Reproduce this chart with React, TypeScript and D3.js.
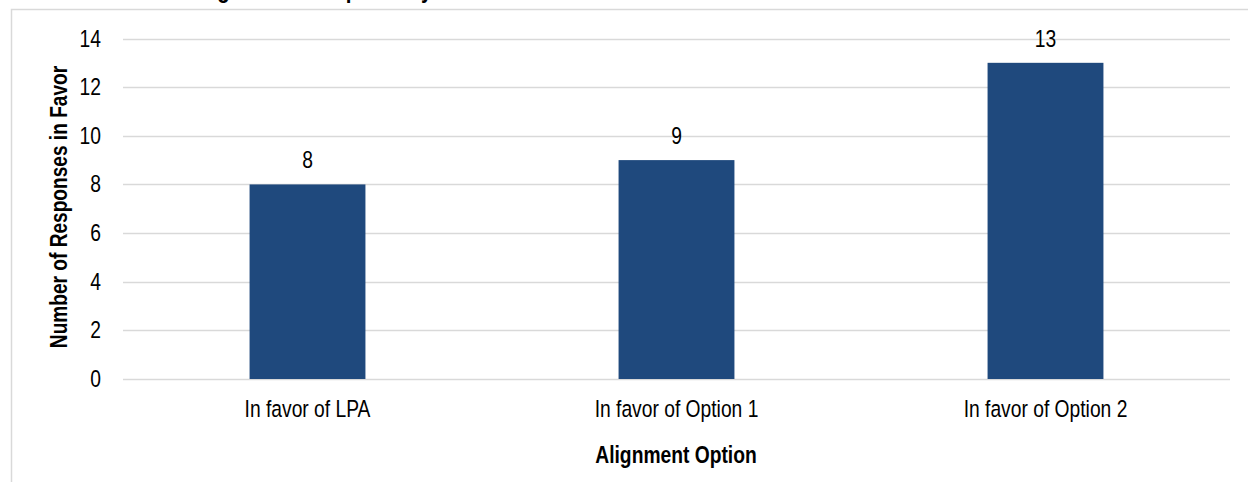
import React from "react";
import * as d3 from "d3";

const categories: string[] = ["In favor of LPA", "In favor of Option 1", "In favor of Option 2"];
const values: number[] = [8, 9, 13];
const yTicks: number[] = [0, 2, 4, 6, 8, 10, 12, 14];
const titleText = "Alignment Group Survey Results";
const xTitle = "Alignment Option";
const yTitle = "Number of Responses in Favor";

const W = 1248;
const H = 482;
const FONT = "'Liberation Sans', Arial, sans-serif";
const FS = 23.5;
const SX = 0.82; // emulate a narrow face
const BAR = "#1F497D";
const GRID = "#D9D9D9";

function NText(props: {
  x: number;
  y: number;
  anchor?: string;
  bold?: boolean;
  rotate?: number;
  size?: number;
  children: React.ReactNode;
}) {
  const { x, y, anchor = "middle", bold = false, rotate = 0, size = FS, children } = props;
  return (
    <text
      transform={`translate(${x},${y}) rotate(${rotate}) scale(${SX},1)`}
      textAnchor={anchor}
      fontFamily={FONT}
      fontWeight={bold ? "bold" : "normal"}
      fontSize={size}
      fill="#000"
    >
      {children}
    </text>
  );
}

export default function App() {
  const x = d3.scaleBand<string>().domain(categories).range([123, 1230]).padding(0);
  const y = d3.scaleLinear().domain([0, 14]).range([379, 38.5]);
  const barW = x.bandwidth() * 0.314;

  return (
    <svg
      width={W}
      height={H}
      style={{ position: "absolute", left: 0, top: 0, background: "#fff" }}
      xmlns="http://www.w3.org/2000/svg"
    >
      <rect x={0} y={0} width={W} height={H} fill="#fff" />
      <NText x={191} y={-2} anchor="start" bold size={25}>
        {titleText}
      </NText>
      <rect x={11.5} y={9.5} width={W + 10} height={H + 10} fill="none" stroke={GRID} strokeWidth={1.5} />
      {yTicks.map((t) => (
        <g key={t}>
          <line x1={123} x2={1230} y1={Math.round(y(t)) + 0.5} y2={Math.round(y(t)) + 0.5} stroke={GRID} strokeWidth={1.5} />
          <NText x={101} y={y(t) + 8} anchor="end">
            {t}
          </NText>
        </g>
      ))}
      {categories.map((c, i) => {
        const cx = (x(c) as number) + x.bandwidth() / 2;
        return (
          <g key={c}>
            <rect x={cx - barW / 2} y={y(values[i])} width={barW} height={y(0) - y(values[i])} fill={BAR} />
            <NText x={cx} y={y(values[i]) - 16}>{values[i]}</NText>
            <NText x={cx} y={417}>{c}</NText>
          </g>
        );
      })}
      <NText x={676} y={463} bold size={23.5}>
        {xTitle}
      </NText>
      <NText x={67} y={207} bold rotate={-90} size={23.3}>
        {yTitle}
      </NText>
    </svg>
  );
}
